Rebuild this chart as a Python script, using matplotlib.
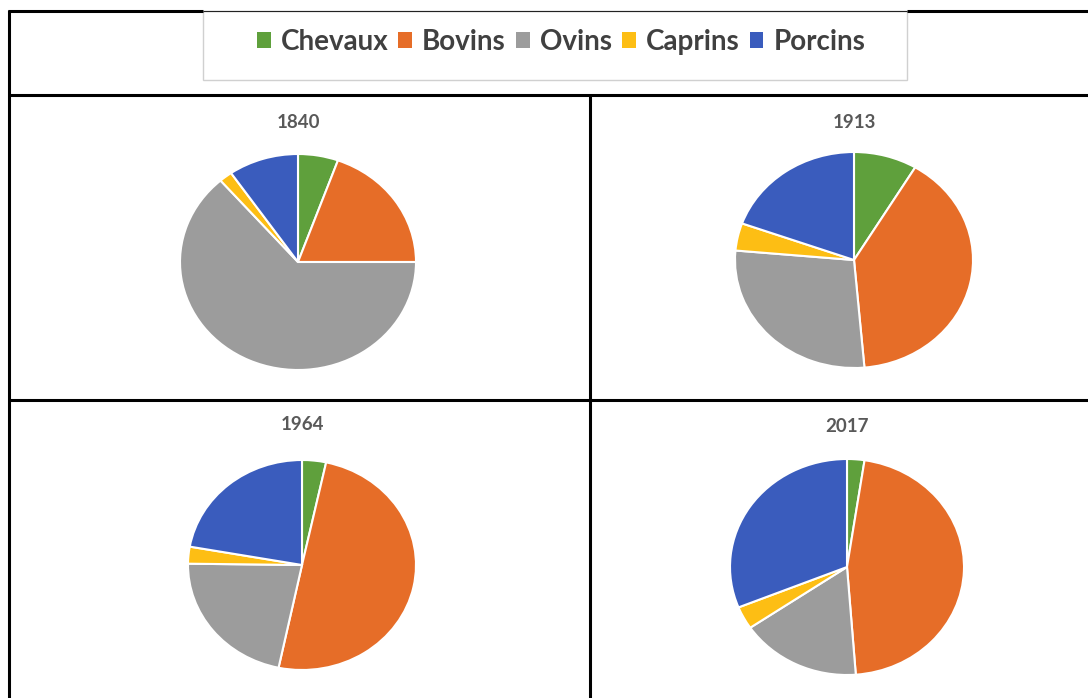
import matplotlib.pyplot as plt
from matplotlib.patches import Patch, Rectangle
from matplotlib.lines import Line2D

# Livestock composition by year (share of each species, %)
categories = ["Chevaux", "Bovins", "Ovins", "Caprins", "Porcins"]
colors = ["#5FA03C", "#E66D28", "#9C9C9C", "#FDBE14", "#3A5CBD"]
years = ["1840", "1913", "1964", "2017"]
shares_1840 = [5.5, 19.5, 63.6, 1.8, 9.6]
shares_1913 = [8.6, 40.0, 27.8, 4.1, 19.5]
shares_1964 = [3.4, 49.9, 21.9, 2.6, 22.2]
shares_2017 = [2.4, 46.4, 16.7, 3.4, 31.1]

W, H = 1088, 698
fig = plt.figure(figsize=(W / 100, H / 100), dpi=100)
fig.patch.set_facecolor("white")


def fx(x):
    return x / W


def fy(y):
    return 1 - y / H


def hline(y, x0, x1, lw=2.2, color="black"):
    fig.add_artist(Line2D([fx(x0), fx(x1)], [fy(y), fy(y)], color=color,
                          lw=lw, solid_capstyle="butt", zorder=5))


def vline(x, y0, y1, lw=2.2, color="black"):
    fig.add_artist(Line2D([fx(x), fx(x)], [fy(y0), fy(y1)], color=color,
                          lw=lw, solid_capstyle="butt", zorder=5))


# Table frame
hline(11, 8, 203)
hline(11, 907, W)
hline(95, 8, W)
hline(400, 8, W)
vline(9, 10, H)
vline(590, 95, H)

# Legend box
fig.add_artist(Rectangle((fx(203), fy(80)), fx(907) - fx(203), fy(11) - fy(80),
                         transform=fig.transFigure, facecolor="white",
                         edgecolor="#D0D0D0", lw=1.0, zorder=4))
hline(11, 203, 907, lw=0.8, color="#222222")

handles = [Patch(facecolor=c, edgecolor="none") for c in colors]
fig.legend(handles, categories, loc="center", bbox_to_anchor=(fx(561), fy(42)),
           ncol=5, frameon=False, handlelength=0.5, handleheight=0.5,
           handletextpad=0.36, columnspacing=0.36, labelcolor="#404040",
           prop={"family": "Lato", "weight": "bold", "size": 20})

# Pie panels: (values, title, centre x, centre y, radius x, radius y, title y)
panels = [
    (shares_1840, years[0], 298, 262, 118, 108, 122),
    (shares_1913, years[1], 854, 260, 119, 108, 122),
    (shares_1964, years[2], 302, 565, 114, 105, 424),
    (shares_2017, years[3], 847, 567, 117, 108, 427),
]

for vals, title, cx, cy, rx, ry, ty in panels:
    ax = fig.add_axes([fx(cx - rx), fy(cy + ry), fx(2 * rx), fy(cy - ry) - fy(cy + ry)])
    ax.pie(vals, colors=colors, startangle=90, counterclock=False, radius=1,
           wedgeprops={"edgecolor": "white", "linewidth": 1.5})
    ax.set_aspect("auto")
    ax.set_xlim(-1, 1)
    ax.set_ylim(-1, 1)
    ax.axis("off")
    fig.text(fx(cx), fy(ty), title, ha="center", va="center", color="#595959",
             fontsize=13.5, fontweight="bold", family="Lato")

fig.savefig("out.png", dpi=100, facecolor="white")
